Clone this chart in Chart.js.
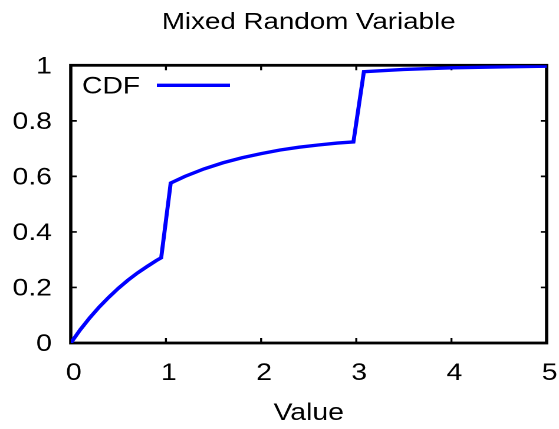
<!DOCTYPE html>
<html>
<head>
<meta charset="utf-8">
<script src="https://cdn.jsdelivr.net/npm/chart.js@4"></script>
<style>
  html, body { margin: 0; padding: 0; background: #fff; overflow: hidden; }
  #c { display: block; position: absolute; left: 0; top: 0; }
</style>
</head>
<body>
<canvas id="c" width="474" height="429" style="width:559px;height:429px"></canvas>
<script>
const chartTitle = 'Mixed Random Variable';
const xAxisTitle = 'Value';
const seriesLabel = 'CDF';
const xValues = [0, 0.1, 0.2, 0.3, 0.4, 0.5, 0.6, 0.7, 0.8, 0.9, 0.95, 1.05, 1.2, 1.4, 1.6, 1.8, 2.0, 2.2, 2.4, 2.6, 2.8, 2.97, 3.08, 3.5, 4.0, 4.5, 5.0];
const cdfValues = [0, 0.048, 0.091, 0.13, 0.165, 0.197, 0.226, 0.252, 0.275, 0.297, 0.307, 0.576, 0.6, 0.627, 0.649, 0.667, 0.682, 0.695, 0.705, 0.713, 0.72, 0.724, 0.977, 0.985, 0.991, 0.994, 0.997];
const xTickLabels = ['0', '1', '2', '3', '4', '5'];
const yTickLabels = ['0', '0.2', '0.4', '0.6', '0.8', '1'];

const FONT = '"Liberation Sans", Arial, Helvetica, sans-serif';

const framePlugin = {
  id: 'frame',
  beforeDatasetsDraw(chart) {
    const {ctx, chartArea: a, scales} = chart;
    ctx.save();
    ctx.strokeStyle = '#000';
    ctx.lineWidth = 1.7;
    const tl = 5;
    scales.x.ticks.forEach(t => {
      const px = scales.x.getPixelForValue(t.value);
      ctx.beginPath();
      ctx.moveTo(px, a.bottom); ctx.lineTo(px, a.bottom - tl);
      ctx.moveTo(px, a.top); ctx.lineTo(px, a.top + tl);
      ctx.stroke();
    });
    scales.y.ticks.forEach(t => {
      const py = scales.y.getPixelForValue(t.value);
      ctx.beginPath();
      ctx.moveTo(a.left, py); ctx.lineTo(a.left + tl, py);
      ctx.moveTo(a.right, py); ctx.lineTo(a.right - tl, py);
      ctx.stroke();
    });
    ctx.lineWidth = 2.8;
    ctx.lineJoin = 'miter';
    ctx.strokeRect(a.left, a.top, a.right - a.left, a.bottom - a.top);
    ctx.restore();
  },
  afterDraw(chart) {
    const {ctx, chartArea: a} = chart;
    ctx.save();
    ctx.fillStyle = '#000';
    ctx.font = '23.5px ' + FONT;
    ctx.textAlign = 'center';
    ctx.textBaseline = 'alphabetic';
    ctx.fillText(chartTitle, (a.left + a.right) / 2, 29);
    const ds = chart.data.datasets[0];
    ctx.font = '24px ' + FONT;
    ctx.textAlign = 'left';
    ctx.fillText(ds.label, a.left + 9.5, a.top + 28);
    ctx.strokeStyle = ds.borderColor;
    ctx.lineWidth = ds.borderWidth;
    ctx.beginPath();
    ctx.moveTo(a.left + 73, a.top + 20);
    ctx.lineTo(a.left + 135, a.top + 20);
    ctx.stroke();
    ctx.restore();
  }
};

new Chart(document.getElementById('c'), {
  type: 'line',
  data: {
    datasets: [{
      label: seriesLabel,
      data: xValues.map((x, i) => ({x: x, y: cdfValues[i]})),
      borderColor: '#0000ff',
      borderWidth: 3.4,
      pointRadius: 0,
      tension: 0,
      fill: false,
      borderJoinStyle: 'miter',
      borderCapStyle: 'butt'
    }]
  },
  options: {
    responsive: false,
    animation: false,
    devicePixelRatio: 2,
    layout: { padding: { top: 65.3, right: 10.5, bottom: 0, left: 0 } },
    plugins: { legend: { display: false }, title: { display: false }, tooltip: { enabled: false } },
    scales: {
      x: {
        type: 'linear', min: 0, max: 5,
        grid: { display: false, drawTicks: false },
        border: { display: false },
        ticks: {
          stepSize: 1, padding: 16, labelOffset: 2.5, color: '#000', maxRotation: 0, autoSkip: false,
          font: { family: FONT, size: 24 },
          callback: (v) => xTickLabels[Math.round(v)]
        },
        title: { display: true, text: xAxisTitle, color: '#000', font: { family: FONT, size: 24 }, padding: { top: 0, bottom: 1 } },
        afterFit: (s) => { s.height = 86; s.paddingLeft = 0; s.paddingRight = 0; }
      },
      y: {
        type: 'linear', min: 0, max: 1,
        grid: { display: false, drawTicks: false },
        border: { display: false },
        ticks: {
          stepSize: 0.2, padding: 16, labelOffset: 1.5, color: '#000',
          font: { family: FONT, size: 24 },
          callback: (v) => yTickLabels[Math.round(v * 5)]
        },
        afterFit: (s) => { s.width = 60; s.paddingTop = 0; s.paddingBottom = 0; }
      }
    }
  },
  plugins: [framePlugin]
});
</script>
</body>
</html>
